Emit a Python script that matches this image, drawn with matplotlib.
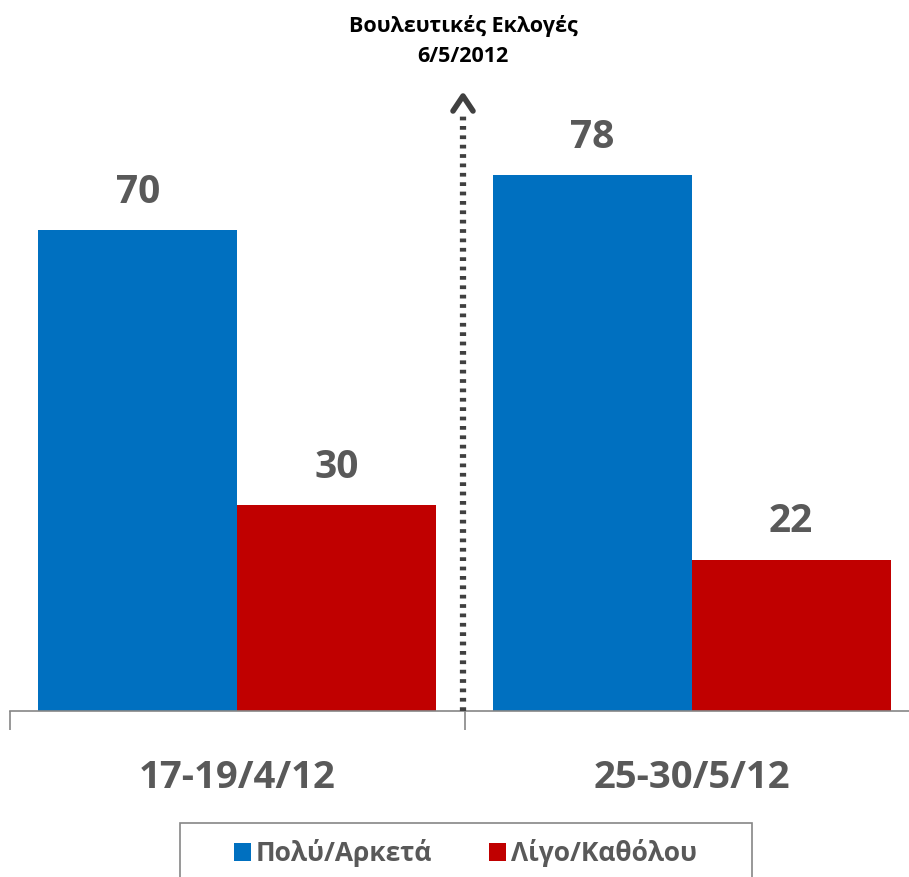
import matplotlib
matplotlib.use("Agg")
import matplotlib.pyplot as plt
import numpy as np
from matplotlib.patches import Rectangle

categories = ["17-19/4/12", "25-30/5/12"]
series_names = ["Πολύ/Αρκετά", "Λίγο/Καθόλου"]
values_much = [70, 78]
values_little = [30, 22]
colors = ["#0070C0", "#C00000"]

W, H = 909, 878
fig = plt.figure(figsize=(W / 100, H / 100), dpi=100)
fam = ["Open Sans", "DejaVu Sans"]

ax_left = 10 / W
ax_w = 909 / W
ax_bottom = (H - 712) / H
ax_h = 618 / H
ax = fig.add_axes([ax_left, ax_bottom, ax_w, ax_h])

x = np.arange(len(categories))
bw = 0.4376
b1 = ax.bar(x - bw / 2, values_much, bw, color=colors[0], label=series_names[0])
b2 = ax.bar(x + bw / 2, values_little, bw, color=colors[1], label=series_names[1])

for bars, vals in [(b1, values_much), (b2, values_little)]:
    for r, v in zip(bars, vals):
        ax.annotate(str(v), (r.get_x() + r.get_width() / 2, v), xytext=(0, 14),
                    textcoords="offset points", ha="center", va="bottom",
                    fontsize=28, fontweight="bold", color="#595959", family=fam)

ax.set_xlim(-0.5, 1.5)
ax.set_ylim(0, 90)
for s in ["top", "right", "left"]:
    ax.spines[s].set_visible(False)
ax.spines["bottom"].set_color("#868686")
ax.spines["bottom"].set_linewidth(1.2)
ax.set_yticks([])
ax.set_xticks([-0.5, 0.5, 1.5])
ax.set_xticklabels([])
ax.tick_params(axis="x", length=14, color="#868686", width=1.2)
for xi, c in zip(x, categories):
    ax.text(xi, -9.6, c, ha="center", va="center", fontsize=27.5, fontweight="bold",
            color="#595959", family=fam, transform=ax.transData, clip_on=False)

# dotted arrow for election date
ax_x = 463 / W
fig.add_artist(plt.Line2D([ax_x, ax_x], [(H - 712) / H, (H - 112) / H],
                          transform=fig.transFigure, color="#404040", lw=4.5,
                          linestyle=(0, (0.6, 0.9))))
fig.add_artist(plt.Line2D([ax_x - 10 / W, ax_x, ax_x + 10 / W],
                          [(H - 112) / H, (H - 97) / H, (H - 112) / H],
                          transform=fig.transFigure, color="#404040", lw=4,
                          solid_capstyle="round", solid_joinstyle="round"))
fig.text(ax_x, (H - 26) / H, "Βουλευτικές Εκλογές", ha="center", va="center",
         fontsize=15.5, fontweight="bold", color="black", family=fam)
fig.text(ax_x, (H - 57) / H, "6/5/2012", ha="center", va="center",
         fontsize=15.5, fontweight="bold", color="black", family=fam)

# legend box
fig.add_artist(Rectangle((180 / W, -0.01), (752 - 180) / W, (H - 824) / H + 0.01,
                         transform=fig.transFigure, facecolor="white",
                         edgecolor="#868686", lw=1.2))
ly = (H - 853) / H
for px, name, col in [(234, series_names[0], colors[0]), (489, series_names[1], colors[1])]:
    fig.add_artist(Rectangle((px / W, ly - 9 / H), 17 / W, 18 / H,
                             transform=fig.transFigure, facecolor=col, edgecolor="none"))
    fig.text((px + 22) / W, ly, name, ha="left", va="center", fontsize=19,
             fontweight="bold", color="#595959", family=fam)

fig.savefig("out.png", dpi=100)
